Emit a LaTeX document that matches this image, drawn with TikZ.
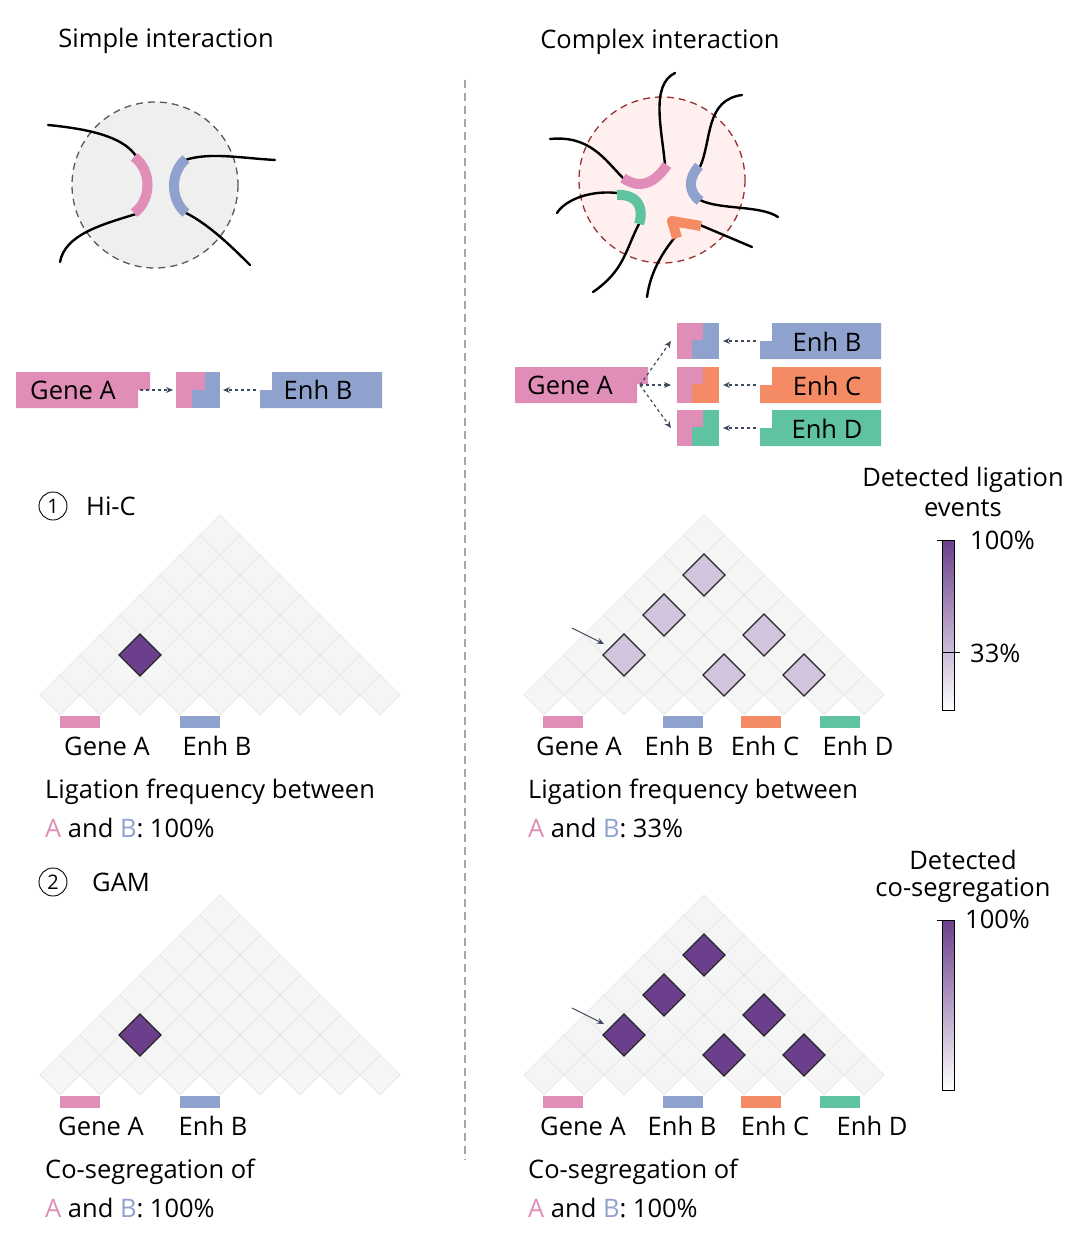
\documentclass[tikz,border=0pt]{standalone}
\usepackage{fontspec}
\setmainfont{Open Sans}
\usetikzlibrary{arrows.meta}
\definecolor{cpink}{HTML}{E08DB8}
\definecolor{cblue}{HTML}{8FA2CD}
\definecolor{corange}{HTML}{F58B64}
\definecolor{cgreen}{HTML}{5FC2A0}
\definecolor{cpurple}{HTML}{6B3F8C}
\definecolor{clight}{HTML}{D3C4DE}
\definecolor{carrow}{HTML}{3D4A5C}
\definecolor{cgrid}{HTML}{F5F5F5}
\definecolor{cgridl}{HTML}{E4E4E4}
\tikzset{
 txt/.style={font=\fontsize{25.5}{28}\selectfont, inner sep=0pt},
 strand/.style={line width=2.4pt, line cap=round},
 seg/.style={line width=10pt},
 darr/.style={dashed, carrow, line width=1.2pt, -{Stealth[length=7pt,width=6pt]}},
 cell/.style={fill=cgrid, draw=cgridl, line width=0.5pt},
 hl/.style={draw=black!85, line width=1.3pt},
}
\newcommand{\grid}[2]{%
 \foreach \k in {0,...,8}{\pgfmathtruncatemacro{\m}{8-\k}
  \foreach \j in {0,...,\m}{
   \path[cell] ({#1+60+20*\k+40*\j},{#2+695-20*\k}) ++(-20,0) -- ++(20,-20) -- ++(20,20) -- ++(-20,20) -- cycle;}}}
\newcommand{\hlc}[5]{% xoff yoff k j color
 \path[hl,fill=#5] ({#1+60+20*#3+40*#4},{#2+695-20*#3}) ++(-21,0) -- ++(21,-21) -- ++(21,21) -- ++(-21,21) -- cycle;}
\begin{document}
\begin{tikzpicture}[x=1pt,y=-1pt]
\useasboundingbox (0,0) rectangle (1085,1246);
\fill[white] (0,0) rectangle (1085,1246);
% divider
\draw[gray!70, dashed, line width=1.3pt, dash pattern=on 8pt off 5pt] (465,80) -- (465,1160);
% titles
\node[txt] (t1) at (166,41) {Simple interaction};
\node[txt] (t2) at (660,42) {Complex interaction};
% simple blob
\draw[fill=blue!4!gray!12, draw=black!65, dashed, line width=1.3pt, dash pattern=on 7pt off 5pt] (155,185) circle (83);
\draw[strand] (48,125) .. controls (100,130) and (125,140) .. (136,156);
\draw[strand] (136,214) .. controls (100,225) and (65,235) .. (60,262);
\draw[strand] (185,160) .. controls (210,152) and (240,158) .. (275,160);
\draw[strand] (186,213) .. controls (210,225) and (235,250) .. (250,265);
\draw[seg,cpink] (134,157) .. controls (152,170) and (152,200) .. (134,213);
\draw[seg,cblue] (186,159) .. controls (170,172) and (170,200) .. (186,213);
% complex blob
\draw[fill=pink!25, draw=red!50!black!80, dashed, line width=1.3pt, dash pattern=on 7pt off 5pt] (662,180) circle (83);
\draw[strand] (550,139) .. controls (590,135) and (605,160) .. (623,178);
\draw[strand] (665,165) .. controls (662,130) and (650,85) .. (675,73);
\draw[strand] (700,167) .. controls (712,140) and (705,100) .. (742,95);
\draw[strand] (700,200) .. controls (720,210) and (760,205) .. (778,217);
\draw[strand] (617,193) .. controls (590,190) and (565,200) .. (557,213);
\draw[strand] (640,222) .. controls (625,250) and (625,270) .. (593,292);
\draw[strand] (676,236) .. controls (660,255) and (650,275) .. (647,297);
\draw[strand] (700,225) -- (752,247);
\draw[seg,cpink] (623,178) .. controls (640,190) and (655,183) .. (667,165);
\draw[seg,cblue] (699,166) .. controls (688,178) and (688,192) .. (700,201);
\draw[seg,cgreen] (617,195) .. controls (635,194) and (645,205) .. (639,224);
\draw[seg,corange,line join=round] (677,238) -- (672,221) -- (701,226);
% left gene boxes
\fill[cpink] (16,372) -- (150,372) -- (150,390) -- (138,390) -- (138,408) -- (16,408) -- cycle;
\node[txt] (gA) at (73,390) {Gene A};
\coordinate (gAr) at (140,390);
\fill[cpink] (176,372) rectangle (205,390); \fill[cpink] (176,390) rectangle (192,408);
\fill[cblue] (205,372) rectangle (220,390); \fill[cblue] (192,390) rectangle (220,408);
\coordinate (sqL) at (173,390); \coordinate (sqR) at (223,390);
\fill[cblue] (272,372) -- (382,372) -- (382,408) -- (260,408) -- (260,390) -- (272,390) -- cycle;
\node[txt] (eB) at (318,390) {Enh B};
\coordinate (eBl) at (256,390);
\draw[darr] (gAr) -- (sqL);
\draw[darr] (eBl) -- (sqR);
% right gene boxes
\fill[cpink] (515,367) -- (648,367) -- (648,384) -- (637,384) -- (637,403) -- (515,403) -- cycle;
\node[txt] (gA2) at (570,385) {Gene A};
\coordinate (gA2r) at (640,385);
\foreach \yy/\cc/\ll/\nm in {323/cblue/Enh B/b, 367/corange/Enh C/c, 410/cgreen/Enh D/d}{
 \fill[cpink] (677,\yy) rectangle (703,\yy+17); \fill[cpink] (677,\yy+17) rectangle (692,\yy+36);
 \fill[\cc] (703,\yy) rectangle (719,\yy+17); \fill[\cc] (692,\yy+17) rectangle (719,\yy+36);
 \coordinate (s\nm l) at (671,\yy+18); \coordinate (s\nm r) at (723,\yy+18);
 \fill[\cc] (772,\yy) -- (881,\yy) -- (881,\yy+36) -- (760,\yy+36) -- (760,\yy+18) -- (772,\yy+18) -- cycle;
 \node[txt] (e\nm) at (827,\yy+19) {\ll};
 \coordinate (e\nm l) at (756,\yy+18);
 \draw[darr] (e\nm l) -- (s\nm r);
 \draw[darr] (gA2r) -- (s\nm l);
}
% section labels
\draw[line width=0.9pt] (53,506) circle (14); \node[txt,font=\fontsize{20}{22}\selectfont] (n1) at (53,506) {1};
\node[txt,anchor=west] (hic) at (86,506) {Hi-C};
\draw[line width=0.9pt] (53,882) circle (14); \node[txt,font=\fontsize{20}{22}\selectfont] (n2) at (53,882) {2};
\node[txt,anchor=west] (gam) at (92,882) {GAM};
% grids
\grid{0}{0} \grid{484}{0} \grid{0}{380} \grid{484}{380}
\hlc{0}{0}{2}{1}{cpurple}
\hlc{0}{380}{2}{1}{cpurple}
\foreach \k/\j in {6/1,4/1,2/1,3/4,1/4,1/6}{\hlc{484}{0}{\k}{\j}{clight}\hlc{484}{380}{\k}{\j}{cpurple}}
% arrows to highlighted cells
\coordinate (pa1) at (572,628); \coordinate (pb1) at (604,644);
\coordinate (pa2) at (572,1008); \coordinate (pb2) at (604,1024);
\draw[carrow,line width=1.1pt,-{Stealth[length=7pt,width=6pt]}] (pa1) -- (pb1);
\draw[carrow,line width=1.1pt,-{Stealth[length=7pt,width=6pt]}] (pa2) -- (pb2);
% bars and labels
\foreach \yo in {0,380}{
 \fill[cpink] (60,716+\yo) rectangle (100,728+\yo);
 \fill[cblue] (180,716+\yo) rectangle (220,728+\yo);
 \fill[cpink] (543,716+\yo) rectangle (583,728+\yo);
 \fill[cblue] (663,716+\yo) rectangle (703,728+\yo);
 \fill[corange] (741,716+\yo) rectangle (781,728+\yo);
 \fill[cgreen] (820,716+\yo) rectangle (860,728+\yo);
}
\node[txt] (l1) at (107,746) {Gene A}; \node[txt] (l2) at (217,746) {Enh B};
\node[txt] (l3) at (579,746) {Gene A}; \node[txt] (l4) at (679,746) {Enh B};
\node[txt] (l5) at (765,746) {Enh C}; \node[txt] (l6) at (858,746) {Enh D};
\node[txt] (m1) at (101,1126) {Gene A}; \node[txt] (m2) at (213,1126) {Enh B};
\node[txt] (m3) at (583,1126) {Gene A}; \node[txt] (m4) at (682,1126) {Enh B};
\node[txt] (m5) at (775,1126) {Enh C}; \node[txt] (m6) at (872,1126) {Enh D};
% captions
\node[txt,anchor=west] (c1) at (45,792) {Ligation frequency between};
\node[txt,anchor=west] (c2) at (45,828) {\textcolor{cpink}{A} and \textcolor{cblue}{B}: 100\%};
\node[txt,anchor=west] (c3) at (528,792) {Ligation frequency between};
\node[txt,anchor=west] (c4) at (528,828) {\textcolor{cpink}{A} and \textcolor{cblue}{B}: 33\%};
\node[txt,anchor=west] (c5) at (45,1172) {Co-segregation of};
\node[txt,anchor=west] (c6) at (45,1208) {\textcolor{cpink}{A} and \textcolor{cblue}{B}: 100\%};
\node[txt,anchor=west] (c7) at (528,1172) {Co-segregation of};
\node[txt,anchor=west] (c8) at (528,1208) {\textcolor{cpink}{A} and \textcolor{cblue}{B}: 100\%};
% colour bars
\node[txt] (k1) at (963,480) {Detected ligation};
\node[txt] (k2) at (963,508) {events};
\shade[top color=cpurple, bottom color=white] (942,540) rectangle (954,710);
\draw[line width=0.6pt] (942,540) rectangle (954,710);
\draw[line width=0.6pt] (937,540) -- (954,540); \draw[line width=0.6pt] (942,652) -- (960,652);
\node[txt,anchor=west] (k3) at (970,540) {100\%};
\node[txt,anchor=west] (k4) at (970,653) {33\%};
\node[txt] (k5) at (963,860) {Detected};
\node[txt] (k6) at (963,890) {co-segregation};
\shade[top color=cpurple, bottom color=white] (942,920) rectangle (954,1090);
\draw[line width=0.6pt] (942,920) rectangle (954,1090);
\draw[line width=0.6pt] (937,920) -- (954,920);
\node[txt,anchor=west] (k7) at (965,919) {100\%};
\end{tikzpicture}
\end{document}
